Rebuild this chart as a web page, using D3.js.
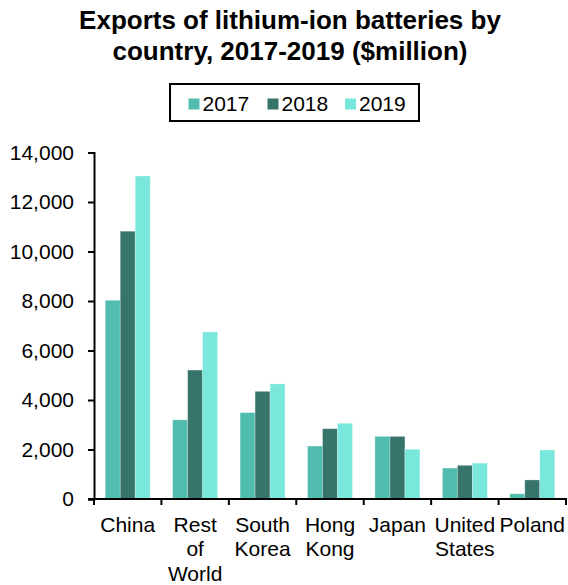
<!DOCTYPE html>
<html>
<head>
<meta charset="utf-8">
<script src="https://cdn.jsdelivr.net/npm/d3@7"></script>
<style>
  html, body { margin: 0; padding: 0; background: #fff; }
  svg { display: block; font-family: "Liberation Sans", Arial, sans-serif; }
</style>
</head>
<body>
<svg id="chart" width="568" height="585"></svg>
<script>
// Exports of lithium-ion batteries, $ million
const countries = [["China"], ["Rest", "of", "World"], ["South", "Korea"], ["Hong", "Kong"], ["Japan"], ["United", "States"], ["Poland"]];
const years = ["2017", "2018", "2019"];
const values2017 = [8030, 3200, 3490, 2140, 2530, 1250, 210];
const values2018 = [10820, 5210, 4350, 2840, 2530, 1360, 770];
const values2019 = [13050, 6750, 4650, 3060, 2010, 1450, 1980];
const yTicks = [0, 2000, 4000, 6000, 8000, 10000, 12000, 14000];
const colors = ["#50BDAE", "#37756B", "#7AE7DD"];

const series = [values2017, values2018, values2019];
const names = countries.map(c => c.join(" "));
const rows = names.map((n, i) => ({ name: n, lines: countries[i], vals: years.map((y, j) => ({ year: y, v: series[j][i] })) }));

const svg = d3.select("#chart");
const margin = { left: 94, right: 566, top: 152.5, bottom: 499 };
const labelSize = 21;

// Title
const title = svg.append("text")
  .attr("text-anchor", "middle")
  .attr("font-weight", "bold")
  .attr("font-size", 26)
  .attr("fill", "#000");
title.append("tspan").attr("x", 290).attr("y", 28.5).text("Exports of lithium-ion batteries by");
title.append("tspan").attr("x", 290).attr("y", 59.5).text("country, 2017-2019 ($million)");

// Legend
const legend = svg.append("g");
legend.append("rect")
  .attr("x", 170).attr("y", 84).attr("width", 249).attr("height", 37)
  .attr("fill", "none").attr("stroke", "#000").attr("stroke-width", 2);
const legendX = [188.5, 267.5, 345];
years.forEach((y, i) => {
  legend.append("rect")
    .attr("x", legendX[i]).attr("y", 98.5).attr("width", 11).attr("height", 11)
    .attr("fill", colors[i]);
  legend.append("text")
    .attr("x", legendX[i] + 14).attr("y", 110.5)
    .attr("font-size", labelSize).attr("fill", "#000")
    .text(y);
});

// Scales
const x0 = d3.scaleBand().domain(names).range([margin.left, margin.right]).padding(0);
const x1 = d3.scaleBand().domain(years).range([x0.bandwidth() / 6, x0.bandwidth() * 5 / 6]).padding(0);
const y = d3.scaleLinear().domain([0, 14000]).range([margin.bottom, margin.top]);

// Bars
const groups = svg.append("g").selectAll("g").data(rows).join("g")
  .attr("transform", d => `translate(${x0(d.name)},0)`);
groups.selectAll("rect").data(d => d.vals).join("rect")
  .attr("x", d => x1(d.year))
  .attr("y", d => y(d.v))
  .attr("width", x1.bandwidth())
  .attr("height", d => y(0) - y(d.v))
  .attr("fill", (d, i) => colors[i])
  .attr("stroke", "#ffffff")
  .attr("stroke-opacity", 0.35)
  .attr("stroke-width", 0.75);

// Y axis
const yAxis = d3.axisLeft(y).tickValues(yTicks).tickSize(6).tickPadding(6)
  .tickFormat(d3.format(","));
const gy = svg.append("g").attr("transform", `translate(${margin.left},0)`).call(yAxis);
gy.select(".domain").attr("stroke", "#000").attr("stroke-width", 2);
gy.selectAll(".tick line").attr("stroke", "#000").attr("stroke-width", 2);
gy.selectAll(".tick text").attr("font-size", labelSize).attr("fill", "#000")
  .attr("font-family", "Liberation Sans, Arial, sans-serif").attr("x", -20);

// X axis baseline with boundary ticks
const gx = svg.append("g");
gx.append("line")
  .attr("x1", margin.left - 6).attr("x2", margin.right + 1)
  .attr("y1", y(0)).attr("y2", y(0))
  .attr("stroke", "#000").attr("stroke-width", 2);
const bounds = names.map(n => x0(n)).concat([x0(names[names.length - 1]) + x0.bandwidth()]);
gx.selectAll("line.tk").data(bounds).join("line")
  .attr("class", "tk")
  .attr("x1", d => d).attr("x2", d => d)
  .attr("y1", y(0)).attr("y2", y(0) + 6)
  .attr("stroke", "#000").attr("stroke-width", 2);

// Category labels
const labels = gx.selectAll("text.cat").data(rows).join("text")
  .attr("class", "cat")
  .attr("text-anchor", "middle")
  .attr("font-size", labelSize)
  .attr("fill", "#000");
labels.each(function(d) {
  const t = d3.select(this);
  d.lines.forEach((ln, k) => {
    t.append("tspan")
      .attr("x", x0(d.name) + x0.bandwidth() / 2)
      .attr("y", 531.5 + k * 24.5)
      .text(ln);
  });
});
</script>
</body>
</html>
